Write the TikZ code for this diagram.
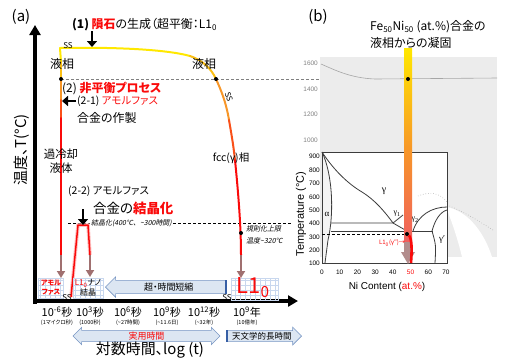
\documentclass[tikz,border=0pt]{standalone}
\usepackage{fontspec}
\setmainfont{Noto Sans CJK JP}[RawFeature=+palt]
\newfontfamily\arialf{Liberation Sans}
\newfontfamily\timesf{Liberation Serif}
\newfontfamily\slantjp{Noto Sans CJK JP}[FakeSlant=0.2]
\usepackage{tikz}
\usetikzlibrary{arrows.meta,shapes.arrows}
\definecolor{jpRed}{RGB}{250,10,10}
\definecolor{jpGray}{RGB}{160,112,112}
\definecolor{jpBlue}{RGB}{220,230,242}
\definecolor{jpEdge}{RGB}{120,150,195}
\definecolor{jpBar}{RGB}{55,95,165}
\definecolor{jpGrid}{RGB}{200,215,238}
\definecolor{jpYel}{RGB}{255,232,0}
\definecolor{jpOra}{RGB}{247,150,40}
\definecolor{jpPink}{RGB}{240,95,95}
\definecolor{pdBack}{RGB}{236,236,236}
\definecolor{pdLine}{RGB}{60,60,60}
\newcommand{\fsz}[1]{\fontsize{#1}{#1}\selectfont}
\newcommand{\ltn}{L1\textsubscript{0}}
\newcommand{\gam}{{\arialf γ}}

\begin{document}
\begin{tikzpicture}[x=1bp,y=-1bp,
    lbl/.style={inner sep=0pt,font=\fsz{12}},
    lbls/.style={inner sep=0pt,font=\fsz{10.5}},
    tiny/.style={inner sep=0pt,font=\slantjp\fsz{7}},
    ssl/.style={inner sep=0pt,font=\fsz{8}},
    tick/.style={inner sep=0pt,font=\fsz{11}},
    tsub/.style={inner sep=0pt,font=\fsz{5.5}},
    pdl/.style={inner sep=0pt,font=\arialf\fsz{6.5}},
    phs/.style={inner sep=0pt,font=\timesf\fsz{9}},
    dot/.style={circle,fill=black,inner sep=0pt,minimum size=4bp},
    blk/.style={-{Triangle[length=6bp,width=10bp]},line width=2.6bp},
    garr/.style={-{Triangle[length=7bp,width=8bp]},line width=2bp,draw=jpGray},
    axis/.style={-{Triangle[length=10bp,width=11bp]},line width=3.2bp},
    cv/.style={line width=2bp,line cap=round},
    pk/.style={line width=1.5bp,draw=jpRed,line join=round},
    dsh/.style={dash pattern=on 3bp off 2bp,line width=0.7bp},
    pdb/.style={pdLine,line width=0.8bp},
    harr/.style={shape=single arrow,fill=jpBlue,draw=jpEdge,line width=0.6bp,inner xsep=2bp,inner ysep=2.2bp,single arrow head extend=3.5bp,font=\fsz{9}},
    gbox/.style={draw=jpGrid,line width=0.6bp}
  ]
  \useasboundingbox (0,0) rectangle (510,360);

  % ---------------- panel (a)
  \node[inner sep=0pt,font=\fsz{15}] (pa) at (21,17) {(a)};
  \draw[axis] (35,304) -- (35,25);
  \draw[axis] (33,301) -- (298,301);
  \node[inner sep=0pt,font=\fsz{15},rotate=90] (ylab) at (22,150) {温度、\textit{T}(°C)};

  % dashed levels
  \draw[dsh,draw=gray] (61,79) -- (409,79);
  \draw[dsh] (68,223) -- (292,223);

  % top and right branch
  \coordinate (r0) at (60,48);
  \coordinate (r1) at (190,56);
  \coordinate (r2) at (216,79);
  \coordinate (r3) at (229,120);
  \coordinate (r4) at (235,160);
  \coordinate (r5) at (241,255);
  \coordinate (r6) at (241,278);
  \draw[cv,jpYel] (r0) .. controls (110,47) and (165,49) .. (r1);
  \draw[cv,jpYel!50!jpOra] (r1) .. controls (202,60) and (211,68) .. (r2);
  \draw[cv,jpOra] (r2) .. controls (221,90) and (226,102) .. (r3);
  \draw[cv,jpOra!50!jpRed] (r3) .. controls (231,132) and (233,142) .. (r4);
  \draw[cv,jpRed] (r4) .. controls (238,190) and (241,225) .. (r5);
  \draw[garr] (r5) -- (r6);

  % left branch
  \coordinate (l1) at (61,62);
  \coordinate (l2) at (61,80);
  \coordinate (l3) at (61,100);
  \coordinate (l4) at (61,118);
  \coordinate (l5) at (61,255);
  \coordinate (l6) at (61,278);
  \draw[cv,jpYel] (r0) -- (l1);
  \draw[cv,jpYel!50!jpOra] (l1) -- (l2);
  \draw[cv,jpOra] (l2) -- (l3);
  \draw[cv,jpOra!50!jpRed] (l3) -- (l4);
  \draw[cv,jpRed] (l4) -- (l5);
  \draw[garr] (l5) -- (l6);

  % crystallisation peak
  \coordinate (p0) at (71,297);
  \coordinate (p1) at (78,225);
  \coordinate (p2) at (88,225);
  \coordinate (p3) at (90,255);
  \coordinate (p4) at (90,277);
  \draw[line width=3.5bp,jpRed!25] (p0) -- (p1) -- (p2) -- (p3);
  \draw[pk] (p0) -- (p1) -- (p2) -- (p3);
  \draw[garr] (p3) -- (p4);

  \node[dot] (d1) at (61,79) {};
  \node[dot] (d2) at (216,79) {};
  \node[dot] (d3) at (241,233) {};

  % black arrows
  \coordinate (a1s) at (92,31);
  \coordinate (a1e) at (92,47);
  \coordinate (a2s) at (83,209);
  \coordinate (a2e) at (83,225);
  \coordinate (a3s) at (76,101);
  \coordinate (a3e) at (62,101);
  \draw[blk] (a1s) -- (a1e);
  \draw[blk] (a2s) -- (a2e);
  \draw[blk] (a3s) -- (a3e);

  % labels of panel (a)
  \node[lbl,anchor=west] (t1) at (72,25) {\textbf{(1)} \textcolor{jpRed}{\textbf{隕石}}の生成（超平衡：\ltn};
  \node[ssl] (ss1) at (68,46) {SS};
  \node[lbl] (liq1) at (62,64) {液相};
  \node[lbl] (liq2) at (204,64) {液相};
  \node[ssl,rotate=-72,anchor=north] (ss2) at (232,96) {SS};
  \node[lbl,anchor=west] (t2) at (62,88) {(2) \textcolor{jpRed}{\textbf{非平衡プロセス}}};
  \node[lbls,anchor=west] (t21) at (77,101) {(2-1) \textcolor{jpRed}{アモルファス}};
  \node[lbl,anchor=west] (t21b) at (77,118) {合金の作製};
  \node[lbl,align=center,font=\fsz{11.5}] (scl) at (61,161) {過冷却\\[2bp]液体};
  \node[lbls] (fcc) at (231,158) {fcc(\gam)相};
  \node[lbls,anchor=west] (t22) at (68,191) {(2-2) アモルファス};
  \node[lbl,anchor=west,font=\fsz{13.5}] (t22b) at (93,208) {合金の\textcolor{jpRed}{\textbf{結晶化}}};
  \node[tiny,anchor=west,fill=white,inner xsep=1bp] (cry) at (90,223) {結晶化(400℃、\textasciitilde300時間)};
  \node[tiny,anchor=west] (ord1) at (246,229) {規則化上限};
  \node[tiny,anchor=west] (ord2) at (246,241) {温度\textasciitilde320℃};

  % grid boxes
  \draw[gbox,step=5bp] (38,298) grid (63,278);
  \draw[gbox] (38,278) rectangle (63,298);
  \draw[gbox,step=5bp] (73,298) grid (103,278);
  \draw[gbox] (73,278) rectangle (103,298);
  \draw[gbox,step=5bp] (231,300) grid (278,278);
  \draw[gbox] (231,278) rectangle (278,300);
  \node[inner sep=0pt,align=center,font=\bfseries\fsz{7},text=jpRed] (amo) at (51,288) {アモル\\[2bp]ファス};
  \node[inner sep=0pt,align=center,font=\fsz{8}] (nano) at (88,288) {\textcolor{jpRed}{\ltn}ナノ\\[1bp]結晶};
  \node[inner sep=0pt,font=\fsz{22},text=jpRed] (bigl) at (253,288) {\ltn};
  \node[ssl] (ss3) at (67,298) {SS};
  \node[ssl] (ss4) at (227,298) {SS};

  % block arrows
  \node[harr,shape border rotate=180,minimum height=120bp,anchor=tip] (shrink) at (105,287) {超・時間短縮};
  \draw[jpBar,line width=2.2bp] (shrink.before tail) -- (shrink.after tail);
  \node[harr,shape=double arrow,double arrow head extend=3bp,inner ysep=1.2bp,minimum height=147bp] (prac) at (146.5,336) {\textcolor{jpRed}{実用時間}};
  \node[harr,inner ysep=1.2bp,font=\fsz{8.5},minimum height=74bp,anchor=tip] (astro) at (302,336) {天文学的長時間};
  \draw[jpBar,line width=2.2bp] (astro.before tail) -- (astro.after tail);

  % time ticks
  \node[tick] (k1) at (57,312) {10\textsuperscript{-6}秒};
  \node[tsub] (k1s) at (57,323) {(1マイクロ秒)};
  \node[tick] (k2) at (90,312) {10\textsuperscript{3}秒};
  \node[tsub] (k2s) at (90,323) {(1000秒)};
  \node[tick] (k3) at (128,312) {10\textsuperscript{6}秒};
  \node[tsub] (k3s) at (128,323) {(\textasciitilde27時間)};
  \node[tick] (k4) at (167,312) {10\textsuperscript{9}秒};
  \node[tsub] (k4s) at (167,323) {(\textasciitilde11.6日)};
  \node[tick] (k5) at (204,312) {10\textsuperscript{12}秒};
  \node[tsub] (k5s) at (204,323) {(\textasciitilde32年)};
  \node[tick] (k6) at (247,312) {10\textsuperscript{9}年};
  \node[tsub] (k6s) at (247,323) {(10億年)};
  \node[inner sep=0pt,font=\fsz{15}] (xlab) at (150,350) {対数時間、log (t)};

  % ---------------- panel (b)
  \node[inner sep=0pt,font=\fsz{15}] (pb) at (318,17) {(b)};
  \node[lbl,anchor=west] (bt1) at (370,27) {Fe\textsubscript{50}Ni\textsubscript{50} (at.\%)合金の};
  \node[lbl,anchor=west] (bt2) at (370,43) {液相からの凝固};

  \fill[pdBack] (320,57) rectangle (497,257);
  \draw[gray!70,line width=0.6bp] (321,64) .. controls (335,70) and (350,78) .. (375,79) -- (497,78);
  \fill[white] (447,207) .. controls (470,212) and (485,235) .. (492,257) -- (462,257) .. controls (458,240) and (452,222) .. (447,210) -- cycle;
  \draw[gray!60,dotted,line width=0.6bp] (447,205) .. controls (465,212) and (480,222) .. (493,230);
  \fill[white] (322,152) rectangle (447,263);
  \fill[pdBack!60] (322,152) .. controls (333,175) and (334,215) .. (328,240) -- (325,263) -- (322,263) -- cycle;
  \draw[gray!60,dotted,line width=0.6bp] (418,196) .. controls (430,191) and (440,193) .. (447,202);

  % phase boundaries
  \draw[pdb] (322,152) rectangle (447,263);
  \draw[pdb] (322,152) .. controls (335,172) and (350,185) .. (362,192) .. controls (375,200) and (385,212) .. (393,223);
  \draw[pdb] (322,152) .. controls (333,175) and (334,215) .. (328,240) -- (325,263);
  \draw[pdb] (331,223) -- (393,223) -- (403,215);
  \draw[pdb] (393,223) -- (407,231);
  \draw[pdb] (331,231) -- (433,231);
  \draw[pdb] (413,231) .. controls (418,215) and (432,207) .. (447,207);
  \draw[pdb] (432,231) .. controls (435,220) and (440,212) .. (447,210);
  \draw[pdb] (432,231) .. controls (436,245) .. (435,263);
  \draw[dsh] (322,234) -- (407,234);

  \node[phs,font=\timesf\fsz{10}] (gamr) at (384,191) {γ};
  \node[phs] (alp) at (327,214) {α};
  \node[phs,font=\timesf\fsz{8}] (gam1) at (397,214) {γ\textsubscript{1}};
  \node[phs,font=\timesf\fsz{8}] (gam2) at (415,220) {γ\textsubscript{2}};
  \node[phs] (gamp) at (442,240) {γ′};

  % axes of the phase diagram
  \foreach \t/\yy in {1600/63,1400/89,1200/114,1000/140}
    \node[pdl,anchor=east,text=gray] at (318,\yy) {\t};
  \foreach \t/\yy in {900/156,800/170,700/183,600/197,500/210,400/223,300/237,200/250,100/263}
    \node[pdl,anchor=east] at (320,\yy) {\t};
  \foreach \n/\c in {0/black,10/black,20/black,30/black,40/black,50/jpRed,60/black,70/black}
    \node[pdl,text=\c] at ({322+1.771*\n},272) {\n};
  \node[inner sep=0pt,font=\arialf\fsz{11},rotate=90] (tlab) at (301,214) {Temperature (°C)};
  \node[inner sep=0pt,font=\arialf\fsz{10}] (nlab) at (387,287) {Ni Content (\textcolor{jpRed}{at.\%})};

  % solidification bar
  \shade[top color=jpYel,bottom color=jpOra] (404,48) rectangle (412,150);
  \shade[top color=jpOra,bottom color=jpPink] (404,150) rectangle (412,242);
  \fill[jpGray!80] (404,242) rectangle (412,252);
  \fill[jpGray!80] (401,252) -- (415,252) -- (408,264) -- cycle;
  \node[dot] (b1) at (408,79) {};
  \node[dot] (b2) at (407,234) {};
  \coordinate (b3) at (411,263);
  \draw[jpRed,line width=2.6bp] (b2) .. controls (412,238) and (412,250) .. (b3);
  \node[inner sep=0pt,font=\fsz{6},text=jpRed] (l10) at (392,243) {\ltn(\gam″)→};
\end{tikzpicture}
\end{document}
